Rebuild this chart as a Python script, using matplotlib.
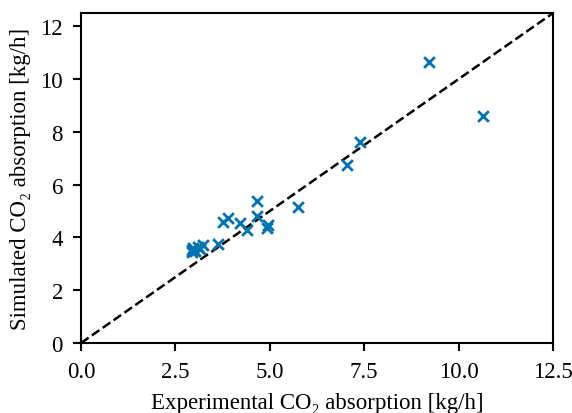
import numpy as np
import matplotlib.pyplot as plt

plt.rc('font', family=['Liberation Serif', 'DejaVu Serif'], size=16.5)

exp_abs = [9.22, 10.65, 7.39, 7.04, 5.74, 4.65, 4.65, 3.77, 3.88, 4.21, 4.40,
           4.96, 4.93, 3.64, 3.24, 2.93, 2.97, 3.03, 3.10, 2.95, 3.15]
sim_abs = [10.63, 8.61, 7.60, 6.75, 5.16, 5.37, 4.82, 4.60, 4.72, 4.55, 4.29,
           4.47, 4.34, 3.75, 3.70, 3.45, 3.60, 3.50, 3.62, 3.52, 3.55]

fig = plt.figure(figsize=(5.72, 4.14), dpi=100)
ax = fig.add_axes([0.1416, 0.169, 0.8252, 0.797])
ax.scatter(exp_abs, sim_abs, marker='x', color='#0173b2', s=60, linewidths=2.0, zorder=3)
ax.plot([0, 12.5], [0, 12.5], '--k', linewidth=1.8)
ax.set_xlim(0, 12.5)
ax.set_ylim(0, 12.5)
ax.set_xticks(np.arange(0, 12.6, 2.5))
ax.set_yticks(np.arange(0, 13, 2))
ax.tick_params(length=6, width=1.5, pad=7)
for s in ax.spines.values():
    s.set_linewidth(1.5)
ax.set_xlabel("Experimental CO\u2082 absorption [kg/h]", labelpad=7)
ax.set_ylabel("Simulated CO\u2082 absorption [kg/h]", labelpad=7)

fig.savefig('out.png', dpi=100)
